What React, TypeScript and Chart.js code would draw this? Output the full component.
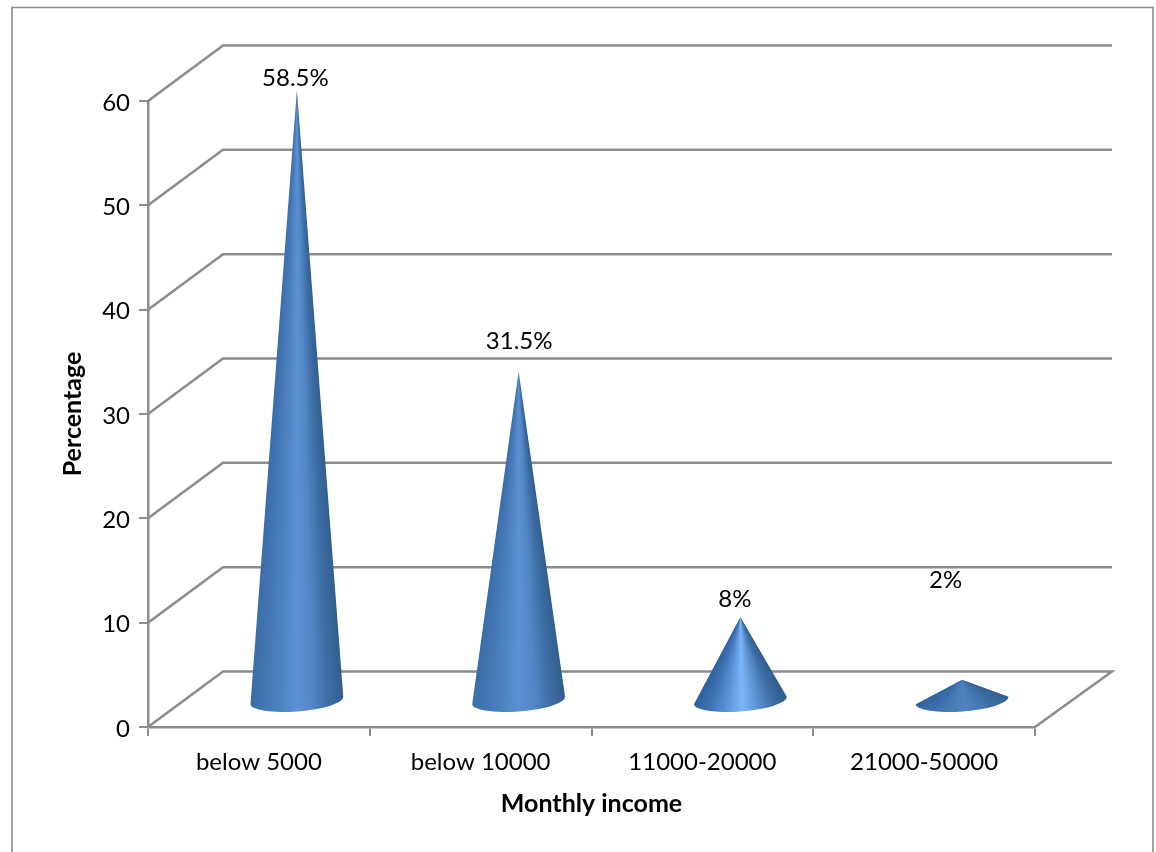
import React, { useEffect, useRef } from "react";
import { Chart, registerables } from "chart.js";

Chart.register(...registerables);

const categories = ["below 5000", "below 10000", "11000-20000", "21000-50000"];
const percentages = [58.5, 31.5, 8, 2];
const valueLabels = ["58.5%", "31.5%", "8%", "2%"];
const yTicks = [0, 10, 20, 30, 40, 50, 60];

const labelNudge = [
  [-1.5, 12],
  [0.5, 31],
  [-5.5, 18],
  [-16.5, 99],
];
const coneShades = [
  ["#3a6ea8", "#4477b5", "#4f84c4", "#5c90d3", "#5286c5", "#3e6ea6", "#315e8d"],
  ["#3a6ea8", "#4477b5", "#4f84c4", "#5c90d3", "#5286c5", "#3e6ea6", "#315e8d"],
  ["#2d619d", "#3f74b4", "#5a92d6", "#7ab6fb", "#5d93d2", "#3f70a8", "#2d5c8c"],
  ["#2f64a0", "#3f72ae", "#4a7cb8", "#4f82bf", "#4a7bb5", "#3f70a8", "#32608f"],
];

const GREY = "#8c8c8c";
const FONT = "Lato, sans-serif";
const TICK_SIZE = 24;
const TITLE_SIZE = 25;
const BACK_X_LEFT = 75;
const BACK_X_RIGHT = 77;
const BACK_Y = 55.5;
const MID_X = 38;
const MID_Y = 26.5;
const TILT = (-4.5 * Math.PI) / 180;

const wallsPlugin = {
  id: "walls",
  beforeDraw(chart: any) {
    const { ctx, chartArea: a, scales } = chart;
    ctx.save();
    ctx.fillStyle = "#ffffff";
    ctx.fillRect(0, 0, chart.width, chart.height);
    ctx.strokeStyle = GREY;
    ctx.lineWidth = 1.6;
    ctx.beginPath();
    ctx.moveTo(12, chart.height);
    ctx.lineTo(12, 7.5);
    ctx.lineTo(1153, 7.5);
    ctx.lineTo(1153, chart.height);
    ctx.stroke();
    ctx.lineWidth = 2.5;
    for (const v of yTicks) {
      const y = scales.y.getPixelForValue(v);
      ctx.beginPath();
      ctx.moveTo(a.left, y);
      ctx.lineTo(a.left + BACK_X_LEFT, y - BACK_Y);
      ctx.lineTo(a.right + BACK_X_RIGHT, y - BACK_Y);
      if (v === 0) ctx.lineTo(a.right, y);
      ctx.stroke();
    }
    ctx.restore();
  },
};

const conePlugin = {
  id: "cones",
  afterDatasetsDraw(chart: any) {
    const { ctx, scales } = chart;
    const base = scales.y.getPixelForValue(0) - MID_Y;
    chart.getDatasetMeta(0).data.forEach((bar: any, i: number) => {
      const cx = bar.x + MID_X;
      const tipY = bar.y - MID_Y;
      const rx = bar.width / 2;
      const ry = 11;
      const cos = Math.cos(TILT);
      const sin = Math.sin(TILT);
      const rightX = cx + rx * cos;
      const rightY = base + rx * sin;
      const leftX = cx - rx * cos;
      const leftY = base - rx * sin;

      const a0 = Math.atan2(rightY - tipY, rightX - cx);
      const a1 = Math.atan2(leftY - tipY, leftX - cx);
      const start = a0 - 0.3;
      const grad = ctx.createConicGradient(start, cx, tipY);
      const shades = coneShades[i];
      shades.forEach((c, k) => {
        const ang = a1 + ((a0 - a1) * k) / (shades.length - 1);
        grad.addColorStop((ang - start) / (2 * Math.PI), c);
      });

      ctx.save();
      ctx.beginPath();
      ctx.moveTo(cx, tipY);
      ctx.lineTo(rightX, rightY);
      ctx.ellipse(cx, base, rx, ry, TILT, 0, Math.PI, false);
      ctx.closePath();
      ctx.fillStyle = grad;
      ctx.fill();
      ctx.restore();
    });

    ctx.save();
    ctx.fillStyle = "#000000";
    ctx.font = `${TICK_SIZE}px ${FONT}`;
    ctx.textAlign = "center";
    ctx.textBaseline = "middle";
    chart.getDatasetMeta(0).data.forEach((bar: any, i: number) => {
      ctx.fillText(
        valueLabels[i],
        bar.x + MID_X + labelNudge[i][0],
        bar.y - MID_Y - labelNudge[i][1]
      );
    });
    ctx.restore();
  },
};

export default function App() {
  const ref = useRef<HTMLCanvasElement>(null);
  useEffect(() => {
    const chart = new Chart(ref.current as HTMLCanvasElement, {
      type: "bar",
      data: {
        labels: categories,
        datasets: [
          {
            label: "Percentage",
            data: percentages,
            backgroundColor: "rgba(0,0,0,0)",
            barPercentage: 0.42,
            categoryPercentage: 1,
          },
        ],
      },
      options: {
        animation: false,
        responsive: false,
        devicePixelRatio: 1,
        layout: { padding: { left: 0, top: 101, right: 121, bottom: 0 } },
        plugins: { legend: { display: false }, tooltip: { enabled: false } },
        scales: {
          x: {
            afterFit: (s: any) => {
              s.height = 125;
            },
            grid: {
              drawOnChartArea: false,
              color: GREY,
              tickLength: 9,
              lineWidth: 2,
            },
            border: { color: GREY, width: 2.5 },
            ticks: {
              color: "#000000",
              font: { family: FONT, size: TICK_SIZE },
              padding: 12,
              maxRotation: 0,
            },
            title: {
              display: true,
              text: "Monthly income",
              color: "#000000",
              font: { family: FONT, size: TITLE_SIZE, weight: "bold" },
              padding: { top: 0, bottom: 33 },
            },
          },
          y: {
            min: 0,
            max: 60,
            afterFit: (s: any) => {
              s.width = 148;
            },
            afterBuildTicks: (s: any) => {
              s.ticks = yTicks.map((value) => ({ value }));
            },
            grid: {
              drawOnChartArea: false,
              color: GREY,
              tickLength: 9,
              lineWidth: 2,
            },
            border: { color: GREY, width: 2.5 },
            ticks: {
              color: "#000000",
              font: { family: FONT, size: TICK_SIZE, lineHeight: "4px" },
              padding: 9,
              callback: (v: any) => ["", String(v)],
            },
            title: {
              display: true,
              text: "Percentage",
              color: "#000000",
              font: { family: FONT, size: TITLE_SIZE, weight: "bold" },
              padding: { top: 58, bottom: 0 },
            },
          },
        },
      },
      plugins: [wallsPlugin, conePlugin],
    } as any);
    return () => chart.destroy();
  }, []);
  return (
    <canvas
      ref={ref}
      width={1156}
      height={852}
      style={{ position: "absolute", left: 0, top: 0, display: "block" }}
    />
  );
}
